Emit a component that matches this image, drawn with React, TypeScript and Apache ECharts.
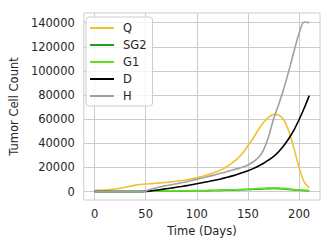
import React, { useEffect, useRef } from "react";
import * as echarts from "echarts";

const days = [0,5,10,15,20,25,30,35,40,45,50,55,60,65,70,75,80,85,90,95,100,105,110,115,120,125,130,135,140,145,150,155,160,165,170,175,180,185,190,195,200,205,210];

const qValues = [1000,1100,1300,1600,2100,2800,3600,4500,5300,5900,6300,6600,6900,7200,7600,8000,8500,9100,9800,10600,11500,12500,13700,15000,16600,18600,21000,24000,27500,32000,38000,44000,51000,57000,61500,64000,63500,59500,50000,36000,20000,8000,3000];
const sg2Values = [0,0,0,0,0,0,0,0,0,0,80,250,330,380,420,460,500,540,580,620,660,700,750,830,900,1000,1080,1200,1320,1480,1650,1850,2050,2250,2420,2480,2400,2150,1800,1400,1080,830,660];
const g1Values = [0,0,0,0,0,0,0,0,0,0,100,300,400,450,500,550,600,650,700,750,800,850,900,1000,1100,1200,1300,1450,1600,1800,2000,2250,2500,2750,2950,3000,2900,2600,2200,1700,1300,1000,800];
const dValues = [0,0,0,0,0,0,0,0,0,0,200,600,1100,1700,2300,2900,3500,4200,4900,5700,6500,7300,8100,8900,9800,10800,11800,13000,14300,15800,17300,19000,21000,23300,26000,29000,33000,38000,44000,51000,59500,69000,79500];
const hValues = [0,0,0,0,0,0,0,0,0,0,300,2000,3000,4000,4900,5700,6500,7300,8200,9200,10200,11200,12200,13200,14300,15500,16700,17800,19000,20300,22000,24500,28000,34000,45000,60000,72000,85000,100000,116000,131000,140500,140000];

const xTicks = [0, 50, 100, 150, 200];
const yTicks = [0, 20000, 40000, 60000, 80000, 100000, 120000, 140000];

const seriesNames = ["Q", "SG2", "G1", "D", "H"];
const seriesColors = ["#f0c232", "#1ca01c", "#62e01e", "#000000", "#a0a0a0"];
const seriesValues = [qValues, sg2Values, g1Values, dValues, hValues];

const font = "DejaVu Sans";
const textColor = "#262626";
const fs = 11.5;

export default function App() {
  const ref = useRef<HTMLDivElement>(null);
  useEffect(() => {
    if (!ref.current) return;
    const chart = echarts.init(ref.current, undefined, { renderer: "svg" });
    chart.setOption({
      animation: false,
      backgroundColor: "#ffffff",
      grid: {
        left: 81,
        right: 12,
        top: 13,
        bottom: 49,
        show: true,
        borderColor: "#cccccc",
        borderWidth: 1,
        backgroundColor: "transparent",
      },
      legend: {
        orient: "vertical",
        left: 86,
        top: 17,
        icon: "rect",
        itemWidth: 24,
        itemHeight: 2,
        itemGap: 5,
        padding: [5, 6, 4, 4],
        borderColor: "#cccccc",
        borderWidth: 1,
        borderRadius: 3,
        backgroundColor: "rgba(255,255,255,0.8)",
        textStyle: {
          fontFamily: font,
          fontSize: fs,
          color: textColor,
          lineHeight: 12,
          padding: [0, 0, 0, 4],
        },
        data: seriesNames,
      },
      xAxis: {
        type: "value",
        min: -10.5,
        max: 220.5,
        name: "Time (Days)",
        nameLocation: "middle",
        nameGap: 24,
        nameTextStyle: { fontFamily: font, fontSize: fs, color: textColor },
        axisLine: { show: false },
        axisTick: { show: false, customValues: xTicks },
        axisLabel: {
          customValues: xTicks,
          formatter: (v: number) => String(v),
          fontFamily: font,
          fontSize: fs,
          color: textColor,
          margin: 8,
        },
        splitLine: { show: true, lineStyle: { color: "#cccccc", width: 1 } },
      },
      yAxis: {
        type: "value",
        min: -7000,
        max: 148000,
        name: "Tumor Cell Count",
        nameLocation: "middle",
        nameGap: 52,
        nameTextStyle: { fontFamily: font, fontSize: fs, color: textColor },
        axisLine: { show: false },
        axisTick: { show: false, customValues: yTicks },
        axisLabel: {
          customValues: yTicks,
          formatter: (v: number) => String(v),
          fontFamily: font,
          fontSize: fs,
          color: textColor,
          margin: 9,
        },
        splitLine: { show: true, lineStyle: { color: "#cccccc", width: 1 } },
      },
      series: seriesNames.map((name, i) => ({
        name,
        type: "line",
        data: days.map((d, j) => [d, seriesValues[i][j]]),
        showSymbol: false,
        smooth: 0.3,
        color: seriesColors[i],
        lineStyle: { width: 1.6, color: seriesColors[i] },
      })),
    });
    return () => chart.dispose();
  }, []);
  return <div ref={ref} style={{ width: 332, height: 249, position: "absolute", left: 0, top: 0 }} />;
}
